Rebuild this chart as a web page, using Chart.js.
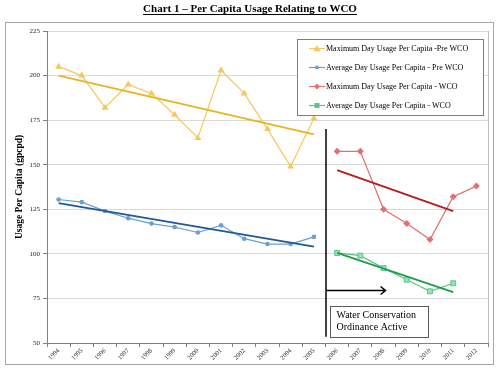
<!DOCTYPE html>
<html>
<head>
<meta charset="utf-8">
<script src="https://cdn.jsdelivr.net/npm/chart.js@4.4.1/dist/chart.umd.min.js"></script>
<style>
    html, body { margin: 0; padding: 0; background: #fff; }
    #wrap { width: 500px; height: 371px; }
</style>
</head>
<body>
<div id="wrap"><canvas id="chart" width="500" height="371"></canvas></div>
<script>
// DATA
const years = ["1994", "1995", "1996", "1997", "1998", "1999", "2000", "2001", "2002", "2003",
    "2004", "2005", "2006", "2007", "2008", "2009", "2010", "2011", "2012"];
const maxPre = [205, 200, 182, 195, 190, 178, 165, 203, 190, 170, 149, 176];
const avgPre = [130.5, 129, 124, 120, 117, 115, 112, 116, 108.5, 105.5, 105.5, 109.5];
const maxWco = [157.5, 157.5, 125, 117, 108, 132, 138];
const avgWco = [100.5, 99, 92, 85.5, 79, 83.5];
// trend lines: value at first and last year of each period
const maxPreTrend = [200, 167];
const avgPreTrend = [128.5, 104];
const maxWcoTrend = [147, 124];
const avgWcoTrend = [100.5, 78.5];
const yTicks = [50, 75, 100, 125, 150, 175, 200, 225];
const legendLabels = [
    "Maximum Day Usage Per Capita -Pre WCO",
    "Average Day Usage Per Capita - Pre WCO",
    "Maximum Day Usage Per Capita - WCO",
    "Average Day Usage Per Capita - WCO",
];

const FONT = "'Liberation Serif', 'Times New Roman', serif";

function placeAt(values, start) {
    const row = years.map(() => null);
    values.forEach((v, i) => { row[start + i] = v; });
    return row;
}
function trendRow(pair, from, to) {
    const row = years.map(() => null);
    row[from] = pair[0];
    row[to] = pair[1];
    return row;
}

const colors = {
    yellow: "#f3c85e", yellowTrend: "#e5b522",
    blue: "#6a9fd0", blueTrend: "#1d5a98",
    red: "#e36f6f", redTrend: "#b51c1c",
    green: "#5cc489", greenTrend: "#1f9c4c",
};

function drawMarker(ctx, style, x, y, r, color) {
    ctx.save();
    ctx.fillStyle = color;
    ctx.strokeStyle = color;
    ctx.beginPath();
    if (style === "triangle") {
        ctx.moveTo(x, y - r);
        ctx.lineTo(x + r, y + r * 0.8);
        ctx.lineTo(x - r, y + r * 0.8);
        ctx.closePath();
        ctx.fill();
    } else if (style === "circle") {
        ctx.arc(x, y, r, 0, Math.PI * 2);
        ctx.fill();
    } else if (style === "rectRot") {
        ctx.moveTo(x, y - r);
        ctx.lineTo(x + r, y);
        ctx.lineTo(x, y + r);
        ctx.lineTo(x - r, y);
        ctx.closePath();
        ctx.fill();
    } else {
        ctx.rect(x - r, y - r, r * 2, r * 2);
        ctx.fill();
    }
    ctx.restore();
}

// PLUGIN: frame, title, legend, WCO marker
const decorPlugin = {
    id: "decor",
    beforeDraw: (chart) => {
        const { ctx } = chart;
        ctx.save();
        ctx.fillStyle = "#fff";
        ctx.fillRect(0, 0, chart.width, chart.height);
        ctx.strokeStyle = "#a6a6a6";
        ctx.lineWidth = 1;
        ctx.strokeRect(5.5, 22.5, 488, 342);

        // title
        ctx.font = "bold 11px " + FONT;
        ctx.fillStyle = "#000";
        ctx.textAlign = "center";
        ctx.textBaseline = "middle";
        const title = "Chart 1 \u2013 Per Capita Usage Relating to WCO";
        ctx.fillText(title, 250, 9);
        const w = ctx.measureText(title).width;
        ctx.fillRect(250 - w / 2, 14, w, 1);
        ctx.restore();
    },
    afterDraw: (chart) => {
        const { ctx, chartArea } = chart;
        const x = chart.scales.x;
        const y = chart.scales.y;
        ctx.save();

        // plot right border
        ctx.strokeStyle = "#bfbfbf";
        ctx.lineWidth = 1;
        ctx.beginPath();
        ctx.moveTo(chartArea.right + 0.5, chartArea.top);
        ctx.lineTo(chartArea.right + 0.5, chartArea.bottom);
        ctx.stroke();

        // WCO start line
        const xLine = Math.round((x.getPixelForValue(11) + x.getPixelForValue(12)) / 2);
        ctx.strokeStyle = "#000";
        ctx.lineWidth = 1.5;
        ctx.beginPath();
        ctx.moveTo(xLine, y.getPixelForValue(170));
        ctx.lineTo(xLine, y.getPixelForValue(53.5));
        ctx.stroke();

        // arrow
        const yArrow = Math.round(y.getPixelForValue(80)) + 0.5;
        const xEnd = x.getPixelForValue(14) + 2;
        ctx.lineWidth = 1.5;
        ctx.beginPath();
        ctx.moveTo(xLine, yArrow);
        ctx.lineTo(xEnd, yArrow);
        ctx.moveTo(xEnd - 5, yArrow - 4);
        ctx.lineTo(xEnd, yArrow);
        ctx.lineTo(xEnd - 5, yArrow + 4);
        ctx.stroke();

        // text box
        const bx = xLine + 4.5;
        const by = Math.round(y.getPixelForValue(70.5)) + 0.5;
        ctx.fillStyle = "#fff";
        ctx.fillRect(bx, by, 98, 31);
        ctx.strokeStyle = "#595959";
        ctx.lineWidth = 1;
        ctx.strokeRect(bx, by, 98, 31);
        ctx.fillStyle = "#000";
        ctx.font = "10px " + FONT;
        ctx.textAlign = "left";
        ctx.textBaseline = "middle";
        ctx.fillText("Water Conservation", bx + 6, by + 9);
        ctx.fillText("Ordinance Active", bx + 6, by + 21);

        // legend
        const lx = 297.5, ly = 39.5, lw = 186, lh = 76;
        ctx.fillStyle = "#fff";
        ctx.fillRect(lx, ly, lw, lh);
        ctx.strokeStyle = "#7f7f7f";
        ctx.strokeRect(lx, ly, lw, lh);
        const legendStyle = [
            [colors.yellow, "triangle", 3.5],
            [colors.blue, "circle", 2],
            [colors.red, "rectRot", 3],
            [colors.green, "rect", 2.5],
        ];
        ctx.font = "8px " + FONT;
        legendLabels.forEach((label, i) => {
            const iy = 48.5 + i * 19;
            const [c, pt, r] = legendStyle[i];
            ctx.strokeStyle = c;
            ctx.lineWidth = 1.2;
            ctx.beginPath();
            ctx.moveTo(309, iy);
            ctx.lineTo(325, iy);
            ctx.stroke();
            drawMarker(ctx, pt, 317, iy, r, c);
            ctx.fillStyle = "#000";
            ctx.textAlign = "left";
            ctx.textBaseline = "middle";
            ctx.fillText(label, 326, iy);
        });
        ctx.restore();
    },
};

const trendStyle = (color) => ({
    borderColor: color,
    backgroundColor: color,
    borderWidth: 1.8,
    pointRadius: 0,
    spanGaps: true,
    fill: false,
});

const ctx = document.getElementById("chart").getContext("2d");
window.usageChart = new Chart(ctx, {
    type: "line",
    plugins: [decorPlugin],
    data: {
        labels: years,
        datasets: [
            { label: "Max Pre trend", data: trendRow(maxPreTrend, 0, 11), ...trendStyle(colors.yellowTrend) },
            { label: "Avg Pre trend", data: trendRow(avgPreTrend, 0, 11), ...trendStyle(colors.blueTrend) },
            { label: "Max WCO trend", data: trendRow(maxWcoTrend, 12, 17), ...trendStyle(colors.redTrend) },
            { label: "Avg WCO trend", data: trendRow(avgWcoTrend, 12, 17), ...trendStyle(colors.greenTrend) },
            {
                label: legendLabels[0], data: placeAt(maxPre, 0),
                borderColor: colors.yellow, backgroundColor: colors.yellow, borderWidth: 1.2,
                pointStyle: "triangle", pointRadius: 4, pointBorderWidth: 0,
            },
            {
                label: legendLabels[1], data: placeAt(avgPre, 0),
                borderColor: colors.blue, backgroundColor: colors.blue, borderWidth: 1.2,
                pointStyle: "circle", pointRadius: 2.3, pointBorderWidth: 0,
            },
            {
                label: legendLabels[2], data: placeAt(maxWco, 12),
                borderColor: colors.red, backgroundColor: colors.red, borderWidth: 1.2,
                pointStyle: "rectRot", pointRadius: 3.5, pointBorderWidth: 0,
            },
            {
                label: legendLabels[3], data: placeAt(avgWco, 12),
                borderColor: colors.green, backgroundColor: "#9be0b8", borderWidth: 1.2,
                pointStyle: "rect", pointRadius: 3.5, pointBorderWidth: 1, pointBorderColor: colors.green,
            },
        ],
    },
    options: {
        responsive: false,
        devicePixelRatio: 1,
        animation: false,
        layout: { padding: { left: 8, top: 31, right: 12, bottom: 0 } },
        plugins: {
            legend: { display: false },
            tooltip: { enabled: false },
        },
        elements: { line: { tension: 0 } },
        scales: {
            x: {
                type: "category",
                offset: true,
                afterFit: (scale) => { scale.height = 28; },
                grid: { offset: true, drawOnChartArea: false, tickLength: 4, tickColor: "#808080" },
                border: { color: "#808080" },
                ticks: {
                    autoSkip: false, minRotation: 45, maxRotation: 45, padding: 0,
                    color: "#262626", font: { family: FONT, size: 6.5 },
                },
            },
            y: {
                min: 50, max: 225,
                afterFit: (scale) => { scale.width = 39; },
                afterBuildTicks: (scale) => { scale.ticks = yTicks.map((v) => ({ value: v })); },
                grid: { color: "#d9d9d9", tickLength: 4, tickColor: "#808080" },
                border: { color: "#808080" },
                ticks: { padding: 3, color: "#262626", font: { family: FONT, size: 7 } },
                title: {
                    display: true, text: "Usage Per Capita (gpcpd)",
                    color: "#000", font: { family: FONT, size: 9.5, weight: "bold" },
                    padding: { top: 6, bottom: 0 },
                },
            },
        },
    },
});
</script>
</body>
</html>
